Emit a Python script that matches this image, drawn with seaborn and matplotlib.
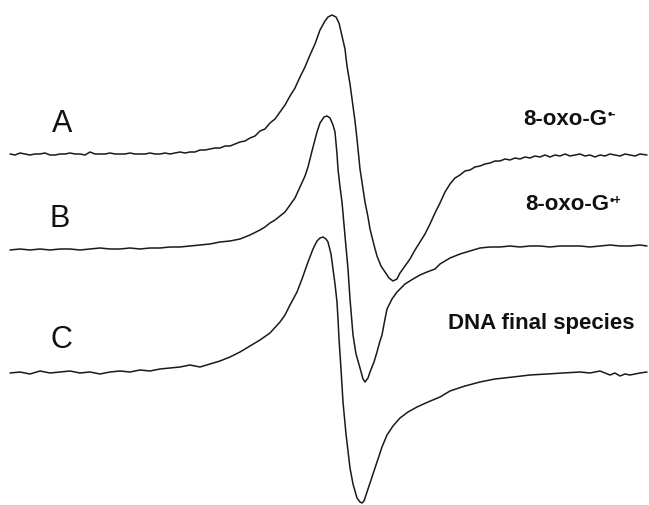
import matplotlib
matplotlib.use("Agg")
import matplotlib.pyplot as plt
import seaborn as sns
import pandas as pd

# ---- data (x: field position in px, y: trace position in px, downwards) ----
a_x = [10, 15, 20, 25, 30, 35, 40, 45, 50, 55, 60, 65, 70, 75, 80, 85, 90, 95, 100, 105,
       110, 115, 120, 125, 130, 135, 140, 145, 150, 155, 160, 165, 170, 175, 180, 185, 190, 195,
       200, 205, 210, 215, 220, 225, 230, 235, 240, 245, 250, 255, 260, 265, 270, 275, 280, 285,
       290, 295, 300, 305, 310, 315, 320, 325, 328, 332, 336, 339, 342, 345, 347, 350, 352, 355,
       357, 360, 363, 365, 368, 370, 374, 377, 381, 385, 389, 393, 397, 400, 405, 410, 415, 420,
       425, 430, 435, 440, 445, 450, 455, 460, 465, 470, 475, 480, 485, 490, 495, 500, 505, 510,
       515, 520, 525, 530, 535, 540, 545, 550, 555, 560, 565, 570, 575, 580, 585, 590, 595, 600,
       605, 610, 615, 620, 625, 630, 635, 640, 647]
a_y = [155, 156, 154, 155, 156, 155, 155, 154, 156, 156, 155, 155, 154, 155, 155, 156, 153, 155, 155, 155,
       154, 155, 155, 155, 154, 155, 155, 155, 154, 155, 155, 154, 155, 154, 153, 154, 153, 153,
       151, 151, 150, 149, 149, 147, 147, 145, 143, 142, 139, 137, 132, 130, 124, 120, 113, 106,
       97, 89, 78, 68, 56, 45, 31, 22, 18, 16, 18, 24, 37, 50, 67, 85, 100, 122,
       140, 170, 190, 203, 218, 230, 246, 257, 267, 273, 279, 282, 280, 274, 267, 260, 251, 243,
       235, 225, 214, 204, 193, 185, 179, 176, 172, 171, 168, 167, 165, 164, 162, 162, 160, 161,
       159, 160, 158, 159, 157, 158, 156, 158, 156, 157, 155, 157, 156, 155, 157, 156, 158, 156,
       157, 155, 156, 157, 155, 156, 157, 155, 156]

b_x = [10, 20, 30, 40, 50, 60, 70, 80, 90, 100, 110, 120, 130, 140, 150, 160, 170, 180, 190,
       200, 210, 220, 230, 240, 250, 260, 265, 270, 275, 280, 285, 290, 295, 300, 305, 308, 312,
       317, 320, 324, 327, 330, 333, 335, 337, 338, 340, 342, 345, 348, 350, 353, 356, 360, 363,
       365, 368, 370, 374, 377, 380, 382, 385, 387, 392, 397, 405, 413, 420, 427, 435, 440, 450,
       460, 470, 480, 490, 500, 510, 520, 530, 540, 550, 560, 570, 580, 590, 600, 610, 620, 630,
       640, 647]
b_y = [251, 250, 251, 250, 251, 250, 250, 251, 250, 249, 250, 250, 249, 250, 249, 249, 248, 248, 247,
       246, 245, 243, 242, 240, 236, 231, 228, 224, 221, 217, 213, 206, 199, 188, 177, 168, 152,
       133, 124, 118, 117, 119, 126, 133, 155, 170, 188, 203, 237, 270, 300, 336, 355, 369, 380,
       383, 379, 373, 363, 353, 342, 336, 320, 310, 300, 293, 285, 280, 276, 273, 270, 265, 259,
       255, 252, 249, 248, 248, 247, 248, 247, 247, 248, 247, 247, 247, 248, 247, 246, 247, 247,
       246, 247]

c_x = [10, 20, 30, 40, 50, 60, 70, 80, 90, 100, 110, 120, 130, 140, 150, 160, 170, 180, 190,
       200, 210, 220, 230, 240, 250, 260, 270, 280, 285, 290, 297, 302, 308, 313, 317, 320, 323,
       326, 328, 331, 333, 335, 337, 338, 339, 341, 343, 346, 350, 353, 357, 360, 362, 364, 367,
       372, 377, 382, 387, 393, 400, 408, 417, 428, 440, 450, 465, 480, 495, 513, 530, 547, 563,
       580, 590, 600, 610, 615, 620, 625, 630, 640, 647]
c_y = [374, 373, 375, 372, 374, 373, 372, 374, 373, 375, 373, 372, 373, 371, 372, 370, 369, 368, 366,
       368, 365, 362, 358, 353, 347, 341, 334, 323, 316, 306, 293, 280, 263, 250, 242, 239, 238,
       240, 243, 255, 270, 285, 303, 320, 340, 370, 403, 435, 469, 485, 499, 503, 504, 502, 493,
       478, 463, 448, 436, 427, 419, 413, 408, 403, 398, 392, 387, 383, 380, 378, 376, 375, 374,
       373, 374, 372, 376, 374, 377, 375, 376, 374, 373]

trace_names = ["A", "B", "C"]
trace_labels = ["8-oxo-G", "8-oxo-G", "DNA final species"]
trace_supers = ["\u2022-", "\u2022+", ""]

frames = []
for name, xs, ys in zip(trace_names, [a_x, b_x, c_x], [a_y, b_y, c_y]):
    frames.append(pd.DataFrame({"field": xs, "signal": ys, "trace": name}))
df = pd.concat(frames, ignore_index=True)

sns.set_style("white")
plt.rcParams["font.family"] = ["Liberation Sans", "DejaVu Sans"]

fig = plt.figure(figsize=(6.49, 5.06), dpi=100)
ax = fig.add_axes([0, 0, 1, 1])
sns.lineplot(data=df, x="field", y="signal", units="trace", estimator=None, sort=False,
             color="#1a1a1a", linewidth=1.1, ax=ax, legend=False)
ax.set_xlim(0, 649)
ax.set_ylim(506, 0)
ax.axis("off")

# letter labels
letter_pos = [(62, 124), (60, 219), (61, 340)]
for name, (lx, ly) in zip(trace_names, letter_pos):
    ax.text(lx, ly, name, fontsize=22, ha="center", va="center", color="#111111")

# right-hand species labels
label_pos = [(523, 119), (525, 205), (448, 324)]
fig.canvas.draw()
renderer = fig.canvas.get_renderer()
for lab, sup, (lx, ly) in zip(trace_labels, trace_supers, label_pos):
    t = ax.text(lx, ly, lab, fontsize=16, fontweight="bold", ha="left", va="center",
                color="#111111")
    if sup:
        bb = t.get_window_extent(renderer=renderer)
        ax.annotate(sup, xy=(bb.x1, bb.y1), xycoords="figure pixels",
                    xytext=(0.5, -0.5), textcoords="offset points",
                    fontsize=9, fontweight="bold", ha="left", va="top", color="#111111")

fig.savefig("out.png", dpi=100)
